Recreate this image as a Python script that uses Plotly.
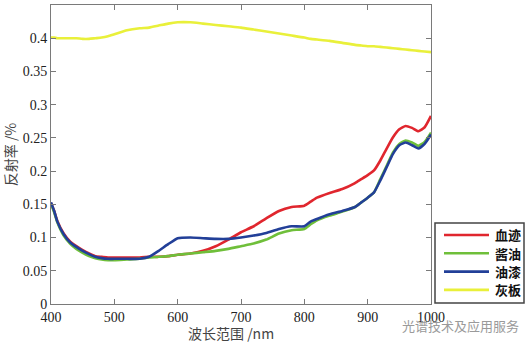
import plotly.graph_objects as go

# Wavelength grid (nm)
wavelength = [400, 405, 410, 420, 430, 440, 450, 460, 470, 480, 490, 500, 520, 540,
              555, 570, 585, 600, 620, 640, 660, 680, 700, 720, 740, 760, 780, 800,
              810, 820, 840, 860, 880, 890, 900, 910, 920, 930, 940, 950, 960, 970,
              980, 990, 1000]

# Reflectance of each sample
blood = [0.152, 0.140, 0.125, 0.106, 0.094, 0.087, 0.081, 0.076, 0.072, 0.071, 0.070,
         0.070, 0.070, 0.070, 0.071, 0.071, 0.072, 0.074, 0.076, 0.080, 0.087, 0.097,
         0.108, 0.117, 0.129, 0.140, 0.146, 0.148, 0.154, 0.160, 0.167, 0.173, 0.182,
         0.188, 0.194, 0.201, 0.216, 0.234, 0.251, 0.263, 0.268, 0.265, 0.260, 0.266,
         0.283]
soy_sauce = [0.151, 0.138, 0.123, 0.103, 0.091, 0.083, 0.077, 0.072, 0.069, 0.067, 0.066,
             0.066, 0.067, 0.068, 0.070, 0.071, 0.072, 0.074, 0.076, 0.078, 0.080, 0.083,
             0.087, 0.091, 0.097, 0.106, 0.111, 0.113, 0.120, 0.126, 0.133, 0.139, 0.146,
             0.153, 0.160, 0.168, 0.188, 0.208, 0.228, 0.241, 0.246, 0.243, 0.238, 0.244,
             0.258]
paint = [0.153, 0.140, 0.124, 0.105, 0.093, 0.086, 0.080, 0.075, 0.071, 0.069, 0.068,
         0.068, 0.068, 0.068, 0.071, 0.080, 0.090, 0.099, 0.100, 0.099, 0.098, 0.098,
         0.100, 0.103, 0.107, 0.113, 0.117, 0.117, 0.124, 0.128, 0.135, 0.140, 0.146,
         0.153, 0.160, 0.168, 0.186, 0.206, 0.226, 0.239, 0.243, 0.239, 0.234, 0.241,
         0.255]
gray_board = [0.401, 0.401, 0.400, 0.400, 0.400, 0.400, 0.399, 0.399, 0.400, 0.401, 0.403,
              0.406, 0.412, 0.415, 0.416, 0.419, 0.422, 0.424, 0.424, 0.422, 0.420, 0.418,
              0.416, 0.413, 0.410, 0.407, 0.404, 0.401, 0.399, 0.398, 0.396, 0.393, 0.390,
              0.389, 0.388, 0.388, 0.387, 0.386, 0.385, 0.384, 0.383, 0.382, 0.381, 0.380,
              0.379]

names = ["血迹", "酱油", "油漆", "灰板"]
colors = ["#e0262e", "#6fbf3a", "#223f98", "#e9f03a"]
series = [blood, soy_sauce, paint, gray_board]

x_ticks = [400, 500, 600, 700, 800, 900, 1000]
x_ticklabels = ["400", "500", "600", "700", "800", "900", "1000"]
y_ticks = [0, 0.05, 0.1, 0.15, 0.2, 0.25, 0.3, 0.35, 0.4, 0.45]
y_ticklabels = ["0", "0.05", "0.1", "0.15", "0.2", "0.25", "0.3", "0.35", "0.4", "0.45"]

W, H = 530, 347
L, R, T, B = 51, 99, 5, 43
PW, PH = W - L - R, H - T - B

SERIF = "Liberation Serif"
CJK = "Noto Sans CJK SC"


def px(xp):
    return (xp - L) / PW


def py(yp):
    return (H - B - yp) / PH


fig = go.Figure()
for name, col, vals in zip(names, colors, series):
    fig.add_trace(go.Scatter(
        x=wavelength, y=vals, mode="lines", name=name,
        line=dict(color=col, width=2.6, shape="spline", smoothing=0.5),
        showlegend=False,
    ))

axis_common = dict(
    showgrid=False, zeroline=False, showline=True, linecolor="#7a7a7a",
    linewidth=1, mirror="ticks", ticks="inside", ticklen=5, tickcolor="#7a7a7a",
    tickfont=dict(family=SERIF, size=14, color="#222222"),
)

fig.update_xaxes(range=[400, 1000], tickvals=x_ticks, ticktext=x_ticklabels, **axis_common)
fig.update_yaxes(range=[0, 0.45], tickvals=y_ticks, ticktext=y_ticklabels,
                 title=dict(text="反射率 /%", standoff=6,
                            font=dict(family=CJK, size=14, color="#444444")),
                 **axis_common)

shapes = []
annotations = []

# x-axis title
annotations.append(dict(
    x=px(231), y=py(333), xref="paper", yref="paper", text="波长范围 /nm",
    showarrow=False, xanchor="center", yanchor="middle",
    font=dict(family=CJK, size=14, color="#444444"),
))

# legend box
shapes.append(dict(type="rect", xref="paper", yref="paper",
                   x0=px(435), x1=px(524), y0=py(303), y1=py(223),
                   line=dict(color="#444444", width=1.5), fillcolor="white", layer="above"))
for i, (name, col) in enumerate(zip(names, colors)):
    yy = 235 + i * 18.3
    shapes.append(dict(type="line", xref="paper", yref="paper",
                       x0=px(444), x1=px(489), y0=py(yy), y1=py(yy),
                       line=dict(color=col, width=2.6), layer="above"))
    annotations.append(dict(
        x=px(493), y=py(yy), xref="paper", yref="paper", text="<b>%s</b>" % name,
        showarrow=False, xanchor="left", yanchor="middle",
        font=dict(family=CJK, size=13, color="#111111"),
    ))

# watermark
annotations.append(dict(
    x=px(400), y=py(325), xref="paper", yref="paper", text="光谱技术及应用服务",
    showarrow=False, xanchor="left", yanchor="middle",
    font=dict(family=CJK, size=13, color="#9a9a9a"),
))

fig.update_layout(
    width=W, height=H,
    margin=dict(l=L, r=R, t=T, b=B),
    paper_bgcolor="white", plot_bgcolor="white",
    shapes=shapes, annotations=annotations,
)

fig.write_html("out.html")
